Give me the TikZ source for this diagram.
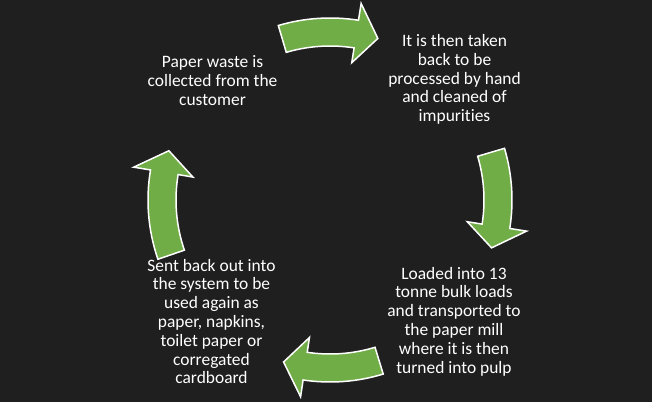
\documentclass[tikz,border=0pt]{standalone}
\usepackage{fontspec}
\setmainfont{Carlito}[Ligatures={NoCommon}]
\usepackage{xcolor}
\usetikzlibrary{positioning}

\definecolor{bgdark}{HTML}{1F1F1F}
\definecolor{arrowgreen}{HTML}{70AD47}

\begin{document}
\begin{tikzpicture}[x=1bp,y=1bp,
    cyclearrow/.style={fill=arrowgreen,draw=white,line width=1.5bp,line join=miter},
    cycletext/.style={text=white,align=center,inner sep=0pt,
        font=\fontsize{17.5}{18.9}\selectfont}]
    % Background
    \fill[bgdark] (0,0) rectangle (652,402);

    % Steps of the cycle
    \node[cycletext] (collect) at (212.5,321.7) {Paper waste is\\collected from the\\customer};
    \node[cycletext] (sort) at (454.5,322.5) {It is then taken\\back to be\\processed by hand\\and cleaned of\\impurities};
    \node[cycletext] (pulp) at (454,80.5) {Loaded into 13\\tonne bulk loads\\and transported to\\the paper mill\\where it is then\\turned into pulp};
    \node[cycletext] (reuse) at (211.5,80.5) {Sent back out into\\the system to be\\used again as\\paper, napkins,\\toilet paper or\\corregated\\cardboard};

    \begin{scope}[shift={(330,202)}]
    % Top arrow
    \draw[cyclearrow] (106.5:182) arc[start angle=106.5,end angle=81,radius=182]
        -- (81:199) -- (73.5:168.5) -- (81:139) -- (81:154)
        arc[start angle=81,end angle=106.5,radius=154] -- cycle;

    % Right arrow
    \draw[cyclearrow] (16.5:182) arc[start angle=16.5,end angle=-9,radius=182]
        -- (-9:199) -- (-16.5:168.5) -- (-9:139) -- (-9:154)
        arc[start angle=-9,end angle=16.5,radius=154] -- cycle;

    % Bottom arrow
    \draw[cyclearrow] (-73:182) arc[start angle=-73,end angle=-98.5,radius=182]
        -- (-98.5:199) -- (-106:168.5) -- (-98.5:139) -- (-98.5:154)
        arc[start angle=-98.5,end angle=-73,radius=154] -- cycle;

    % Left arrow
    \draw[cyclearrow] (199:182) arc[start angle=199,end angle=170.5,radius=182]
        -- (170.5:199) -- (163:168.5) -- (170.5:139) -- (170.5:154)
        arc[start angle=170.5,end angle=199,radius=154] -- cycle;
    \end{scope}
\end{tikzpicture}
\end{document}
